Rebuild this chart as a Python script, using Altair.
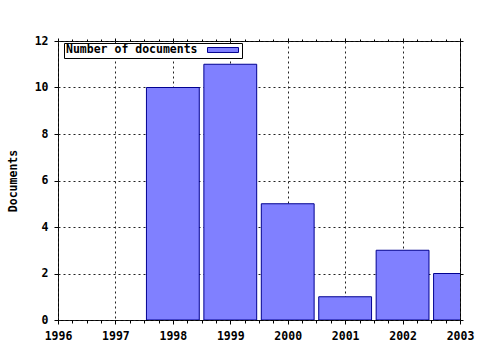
import altair as alt
import pandas as pd

# ---- data ----
years = [1998, 1999, 2000, 2001, 2002, 2003]
counts = [10, 11, 5, 1, 3, 2]
series_name = "Number of documents"
x_major = [1996, 1997, 1998, 1999, 2000, 2001, 2002, 2003]
y_major = [0, 2, 4, 6, 8, 10, 12]

x_ticks = [x_major[0] + i * 0.25 for i in range((x_major[-1] - x_major[0]) * 4 + 1)]
bar_half = 0.46

df = pd.DataFrame({"year": years, "count": counts, "series": series_name})
df["x0"] = df["year"] - bar_half
df["x1"] = df["year"] + bar_half
df["base"] = 0

FONT = "DejaVu Sans Mono"
FS = 11.5
minor_test = "datum.value % 1 !== 0"
GRID = "#222222"

xscale = alt.Scale(domain=[x_major[0], x_major[-1]], nice=False, zero=False, padding=0)
yscale = alt.Scale(domain=[y_major[0], y_major[-1]], nice=False, padding=0)

x_bottom = alt.Axis(
    orient="bottom", values=x_ticks,
    labelExpr="datum.value % 1 === 0 ? format(datum.value, 'd') : ''",
    labelOverlap=False, labelFlush=False, labelPadding=6,
    tickSize={"condition": {"test": minor_test, "value": 3}, "value": 4},
    grid=True, gridDash=[2, 3], gridColor=GRID,
    gridOpacity={"condition": {"test": minor_test, "value": 0}, "value": 1},
    domain=False, tickColor="black", title=None,
    labelFont=FONT, labelFontSize=FS, labelFontWeight="bold", labelColor="black",
)
y_left = alt.Axis(
    orient="left", values=y_major, format="d", labelPadding=6, tickSize=4,
    grid=True, gridDash=[2, 3], gridColor=GRID, domain=False, tickColor="black",
    labelFont=FONT, labelFontSize=FS, labelFontWeight="bold", labelColor="black",
    labelOverlap=False, labelFlush=False,
    title="Documents", titleFont=FONT, titleFontSize=FS, titleFontWeight="bold",
    titleColor="black", titleX=-45, titleY=139.5, titleAngle=270,
    titleAlign="center", titleBaseline="middle",
)
x_top = alt.Axis(
    orient="top", values=x_ticks, labels=False, grid=False, domain=False,
    tickColor="black", title=None,
    tickSize={"condition": {"test": minor_test, "value": 2}, "value": 3},
)
y_right = alt.Axis(
    orient="right", values=y_major, labels=False, grid=False, domain=False,
    tickColor="black", tickSize=3, title=None,
)

bars = alt.Chart(df).mark_bar(
    stroke="#000090", strokeWidth=1, clip=True, opacity=1
).encode(
    x=alt.X("x0:Q", scale=xscale, axis=x_bottom),
    x2="x1:Q",
    y=alt.Y("count:Q", scale=yscale, axis=y_left),
    y2="base:Q",
    color=alt.Color(
        "series:N",
        scale=alt.Scale(domain=[series_name], range=["#8080ff"]),
        legend=alt.Legend(
            title=series_name, titleOrient="left", orient="none",
            legendX=6, legendY=2,
            titleFont=FONT, titleFontSize=FS, titleFontWeight="bold",
            titleColor="black", titlePadding=9,
            labelExpr="''", labelOffset=1, labelFontSize=1,
            symbolType="M-1,-0.16H1V0.16H-1Z", symbolSize=961, clipHeight=10,
            symbolStrokeColor="#000090", symbolStrokeWidth=1, symbolOpacity=1,
            strokeColor="black", fillColor="white", padding=2, cornerRadius=0,
        ),
    ),
)

mirror = alt.Chart(df).mark_point(opacity=0).encode(
    x=alt.X("year:Q", scale=xscale, axis=x_top),
    y=alt.Y("count:Q", scale=yscale, axis=y_right),
)

chart = alt.layer(bars, mirror).resolve_axis(
    x="independent", y="independent"
).properties(
    width=402, height=279,
    autosize=alt.AutoSizeParams(type="none"),
    padding={"left": 58, "top": 41, "right": 20, "bottom": 30},
    background="white",
).configure_view(
    stroke="black", strokeWidth=1
)

chart.save("out.html", embed_options={"renderer": "svg", "actions": False})
